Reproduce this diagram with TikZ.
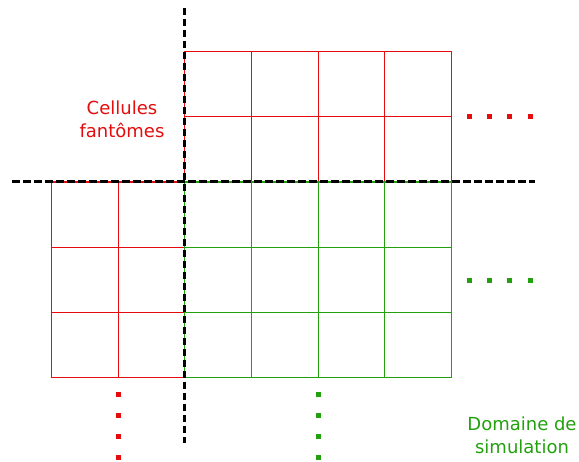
\documentclass[tikz,border=0pt]{standalone}
\usepackage{fontspec}
\setmainfont{DejaVu Sans}
\usetikzlibrary{positioning}
\definecolor{ghostred}{RGB}{228,12,12}
\definecolor{domgreen}{RGB}{34,160,14}

\begin{document}
\begin{tikzpicture}[x=1pt, y=-1pt,
    ghostcell/.style={draw=ghostred, line width=1.5pt, line cap=rect},
    domcell/.style={draw=domgreen, line width=1.5pt, line cap=rect},
    border/.style={draw=black, line width=3pt, dash pattern=on 7.5pt off 3.5pt},
    dotmark/.style={shape=rectangle, inner sep=0pt, minimum size=5pt},
    legendtext/.style={align=center, font=\fontsize{18}{23}\selectfont}]
    \useasboundingbox (0,0) rectangle (579,462);

    % Ghost cells (top block and left block)
    \draw[ghostcell]
        \foreach \xc in {184.5,251.5,318.5,384.5,451.5}{(\xc, 51.5) -- (\xc, 182)}
        \foreach \yc in {51.5,116.5,182}{(184.5, \yc) -- (451.5, \yc)}
        \foreach \xc in {51.5,118.5,184.5}{(\xc, 182) -- (\xc, 377.5)}
        \foreach \yc in {182,247.5,312.5,377.5}{(51.5, \yc) -- (184.5, \yc)};

    % Domain cells
    \draw[domcell]
        \foreach \xc in {184.5,251.5,318.5,384.5,451.5}{(\xc, 182) -- (\xc, 377.5)}
        \foreach \yc in {182,247.5,312.5,377.5}{(184.5, \yc) -- (451.5, \yc)};

    % Boundaries
    \coordinate (vtop) at (184.5, 8);
    \coordinate (vbot) at (184.5, 443);
    \coordinate (hleft) at (12, 182);
    \coordinate (hright) at (535, 182);
    \draw[border] (vtop) -- (vbot);
    \draw[border] (hleft) -- (hright);

    % Continuation dots
    \foreach \k in {0,...,3}{
        \node[dotmark, fill=ghostred] (rowdotR\k) at ({469+\k*20.4}, 117) {};
        \node[dotmark, fill=domgreen] (rowdotG\k) at ({469+\k*20.4}, 281) {};
        \node[dotmark, fill=ghostred] (coldotR\k) at (118, {395+\k*20.7}) {};
        \node[dotmark, fill=domgreen] (coldotG\k) at (318, {395+\k*20.7}) {};
    }

    % Labels
    \node[legendtext, text=ghostred] (ghostlbl) at (122, 119) {Cellules\\fantômes};
    \node[legendtext, text=domgreen] (domlbl) at (522, 435) {Domaine de\\simulation};
\end{tikzpicture}
\end{document}
